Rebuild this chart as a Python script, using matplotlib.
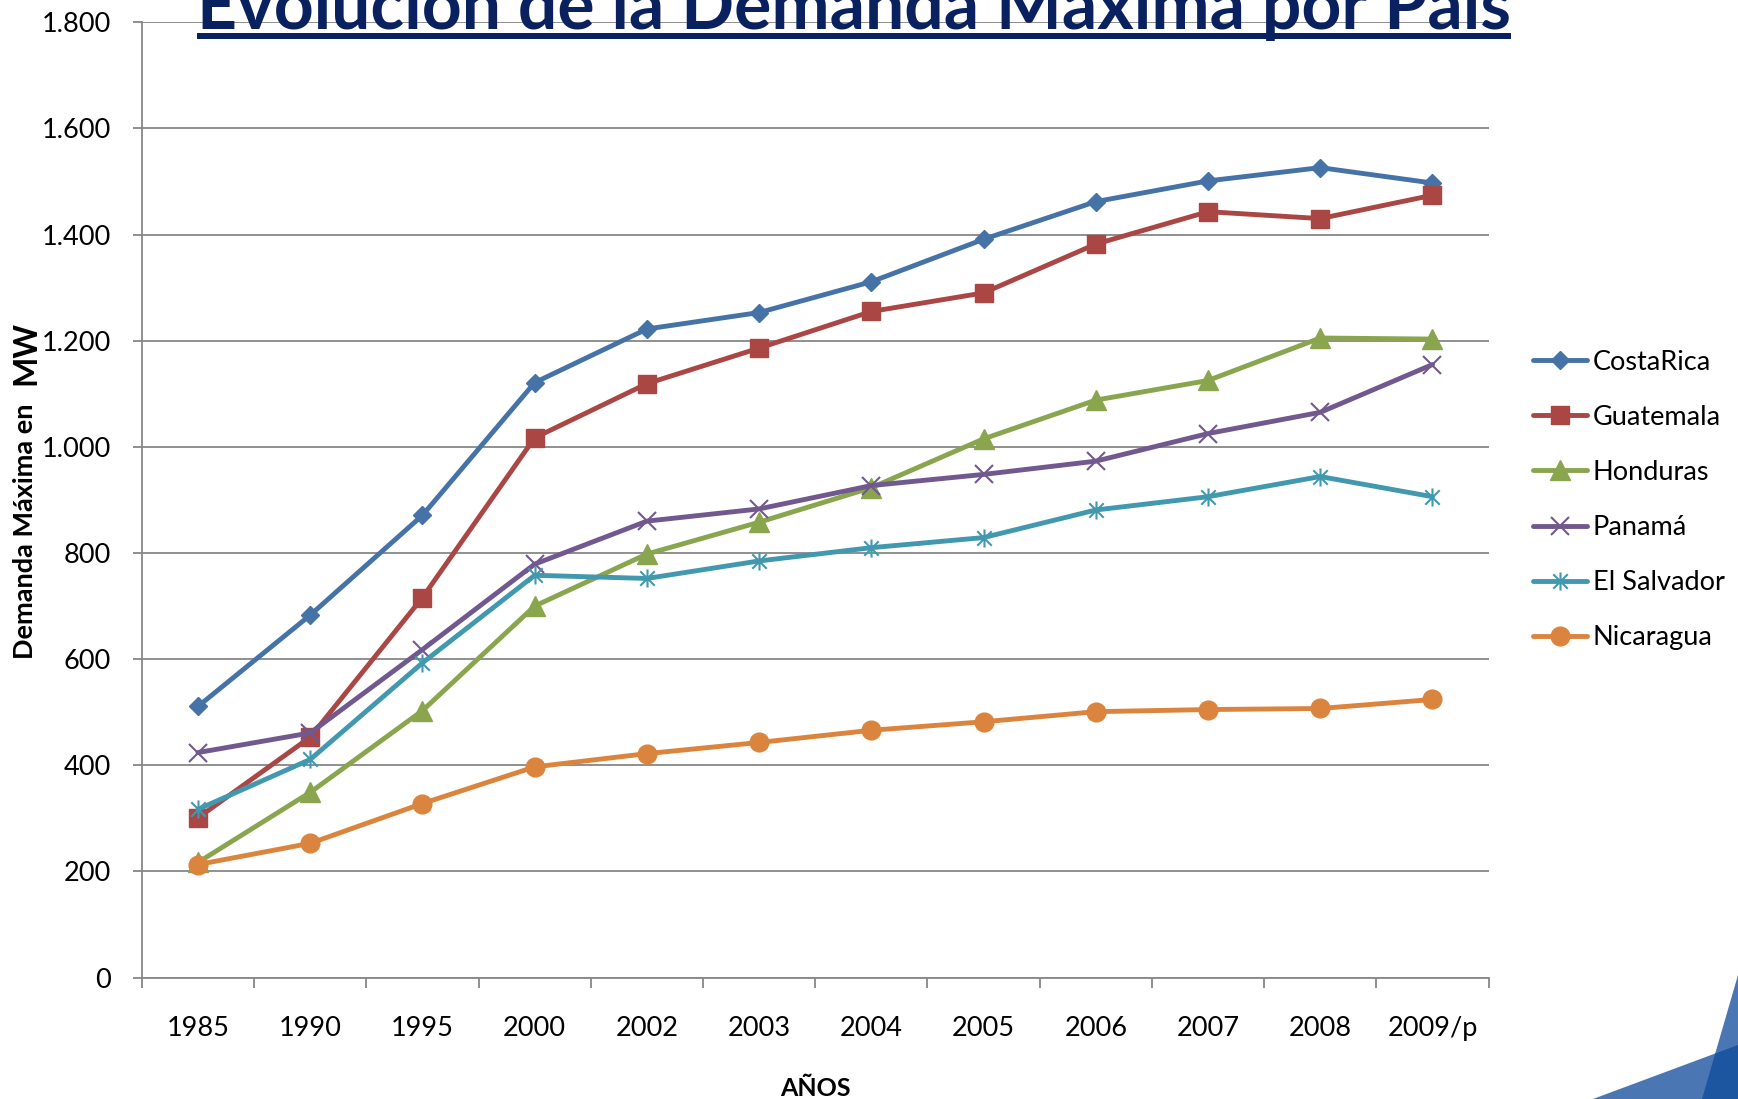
import numpy as np
import matplotlib
matplotlib.use("Agg")
import matplotlib.pyplot as plt
from matplotlib.path import Path
from matplotlib.patches import Polygon, Rectangle
from matplotlib.ticker import FuncFormatter, FixedLocator

plt.rcParams['font.family'] = ['Lato', 'DejaVu Sans']

# Data (MW)
years = ["1985", "1990", "1995", "2000", "2002", "2003", "2004",
         "2005", "2006", "2007", "2008", "2009/p"]
costa_rica = [511, 683, 871, 1121, 1222, 1253, 1311, 1391, 1462, 1501, 1526, 1497]
guatemala = [301, 453, 716, 1017, 1119, 1186, 1255, 1290, 1382, 1443, 1430, 1474]
honduras = [217, 349, 503, 700, 798, 858, 923, 1015, 1088, 1125, 1205, 1203]
panama = [424, 461, 618, 779, 860, 883, 927, 948, 973, 1025, 1065, 1155]
el_salvador = [317, 411, 593, 758, 752, 785, 810, 829, 881, 906, 944, 906]
nicaragua = [213, 253, 328, 397, 422, 443, 466, 482, 501, 505, 507, 524]

W, H = 1738, 1099
fig = plt.figure(figsize=(W / 100, H / 100), dpi=100)
ax = fig.add_axes([141.9 / W, 1 - 977.6 / H, (1488.6 - 141.9) / W, (977.6 - 22.2) / H])

# Excel "star": an x with a vertical bar
star = Path([(-1, -1), (1, 1), (-1, 1), (1, -1), (0, -1.25), (0, 1.25)],
            [Path.MOVETO, Path.LINETO, Path.MOVETO, Path.LINETO, Path.MOVETO, Path.LINETO])

x = np.arange(len(years))
series = [
    ("CostaRica", costa_rica, "#4572A7", "D", 9.5, {}),
    ("Guatemala", guatemala, "#AA4643", "s", 13.5, {}),
    ("Honduras", honduras, "#89A54E", "^", 14, {}),
    ("Panamá", panama, "#71588F", "x", 13, {"markeredgewidth": 1.5}),
    ("El Salvador", el_salvador, "#4198AF", star, 13, {"markeredgewidth": 1.5, "markerfacecolor": "none"}),
    ("Nicaragua", nicaragua, "#DB843D", "o", 13.5, {}),
]
for name, vals, col, mk, ms, extra in series:
    ax.plot(x, vals, color=col, lw=3.5, marker=mk, markersize=ms,
            markeredgecolor=col, label=name, solid_capstyle="round", **extra)

grid_col = "#878787"
ax.set_xlim(-0.5, len(years) - 0.5)
ax.set_ylim(0, 1800)
ax.set_yticks(np.arange(0, 1801, 200))
ax.yaxis.set_major_formatter(FuncFormatter(lambda v, p: f"{int(v):,}".replace(",", ".")))
ax.grid(axis="y", color=grid_col, lw=1.3)
ax.set_axisbelow(True)

ax.set_xticks(x)
ax.set_xticklabels(years)
ax.xaxis.set_minor_locator(FixedLocator(np.arange(-0.5, len(years), 1.0)))
ax.tick_params(axis="x", which="major", length=0, pad=28, labelsize=19.5)
ax.tick_params(axis="x", which="minor", length=7, width=1.3, color=grid_col, direction="out")
ax.tick_params(axis="y", length=6.5, width=1.3, color=grid_col, pad=16, labelsize=19.5)

for s in ["top", "right"]:
    ax.spines[s].set_visible(False)
for s in ["left", "bottom"]:
    ax.spines[s].set_color(grid_col)
    ax.spines[s].set_linewidth(1.3)

ax.set_xlabel("AÑOS", fontsize=18, fontweight="bold", labelpad=0)
ax.xaxis.set_label_coords(0.5, -(1088 - 977.6) / (977.6 - 22.2), transform=ax.transAxes)
ax.xaxis.label.set_va("center")

# y label in two sizes
fig.text(25 / W, 1 - 659 / H, "Demanda Máxima en", rotation=90, fontsize=19.5,
         fontweight="bold", ha="center", va="bottom")
fig.text(26 / W, 1 - 321 / H, "MW", rotation=90, fontsize=23,
         fontweight="bold", ha="center", va="top")

fig.legend(loc="center left", bbox_to_anchor=(1533 / W, 1 - 500 / H), frameon=False,
           fontsize=19.5, handlelength=2.0, handletextpad=0.2, labelspacing=1.11,
           borderpad=0, borderaxespad=0)

# Title, clipped at the top edge, underlined
title_col = "#0a2160"
t = fig.text(197 / W, 1 - 29 / H, "Evolución de la Demanda Máxima por País",
             fontsize=50, fontweight="bold", color=title_col, ha="left", va="baseline")
fig.canvas.draw()
bb = t.get_window_extent()
t.set_fontsize(50 * 1317 / bb.width)
fig.canvas.draw()
bb = t.get_window_extent()
fig.add_artist(Rectangle((bb.x0 / W, 1 - 39 / H), bb.width / W, 6 / H,
                         transform=fig.transFigure, color=title_col, lw=0))

# corner decoration
def fp(pts):
    return [(px / W, 1 - py / H) for px, py in pts]

for pts in ([(1593, 1099), (1738, 1045), (1738, 1099)],
            [(1702, 1099), (1738, 975), (1738, 1099)]):
    fig.add_artist(Polygon(fp(pts), closed=True, transform=fig.transFigure,
                           facecolor="#0d4a9a", alpha=0.75, lw=0))

fig.savefig("out.png", dpi=100)
